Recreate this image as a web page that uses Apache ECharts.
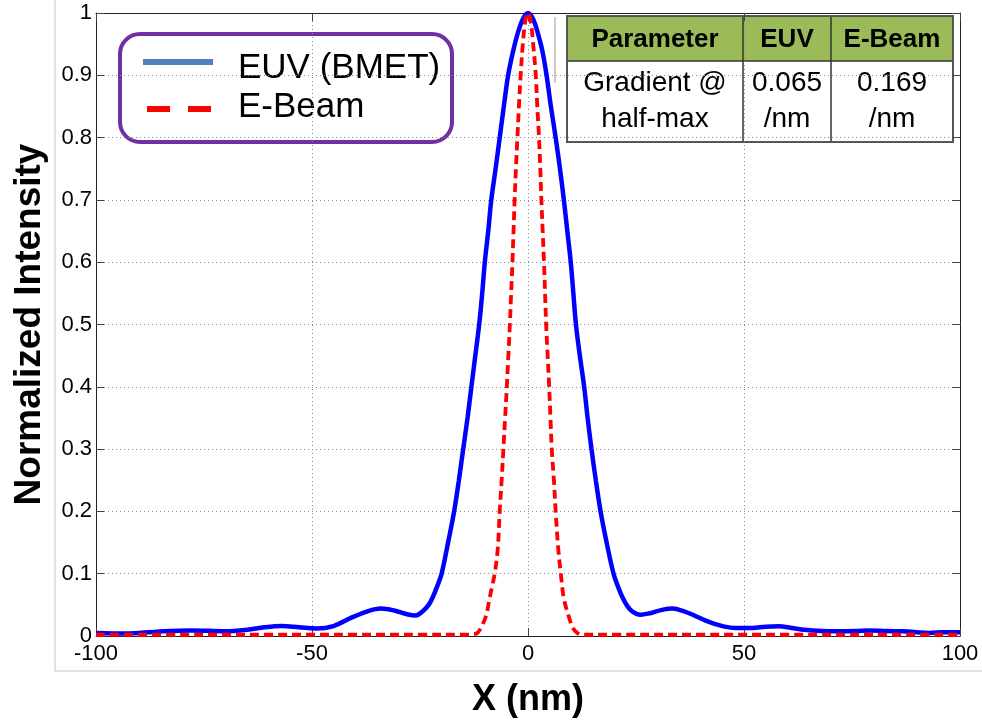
<!DOCTYPE html>
<html>
<head>
<meta charset="utf-8">
<title>Normalized Intensity: EUV vs E-Beam</title>
<script src="https://cdn.jsdelivr.net/npm/echarts@6/dist/echarts.min.js"></script>
<style>
  html, body { margin: 0; padding: 0; background: #ffffff; }
  #chart { width: 982px; height: 723px; }
</style>
</head>
<body>
<div id="chart"></div>
<script>
// EUV (BMET) aerial image profile: x position (nm) and normalized intensity
const euvX = [-100, -93, -86, -78, -70, -65, -61, -57, -53, -49, -45, -41, -37, -34, -31, -28, -26, -24.5, -23, -22, -21, -20,
  -18.5, -17.1, -16, -15, -14, -13.1, -12.2, -11.3, -10.6, -10, -9.2, -8.5, -7.5, -6.55, -5.6, -4.6, -3.4, -2.4, -1.2, 0,
  1.2, 2.3, 3.3, 4.3, 5.3, 6.4, 7.4, 8.3, 9.1, 9.9, 10.5, 11.1, 12, 13, 13.8, 14.7, 15.7, 16.8, 18.2, 19.8,
  20.8, 21.8, 23, 24.2, 26, 28.5, 31, 33.5, 36, 38.5, 41, 43, 45.5, 48, 52, 55, 58, 61, 64, 68, 72, 76, 79, 83, 87, 90, 93, 96, 100];
const euvY = [0.005, 0.004, 0.007, 0.009, 0.0075, 0.010, 0.014, 0.016, 0.014, 0.012, 0.016, 0.029, 0.040, 0.044, 0.041, 0.035, 0.033, 0.039, 0.050, 0.063, 0.080, 0.100,
  0.150, 0.200, 0.250, 0.300, 0.350, 0.400, 0.450, 0.500, 0.550, 0.600, 0.650, 0.700, 0.750, 0.800, 0.850, 0.900, 0.940, 0.967, 0.990, 1.000,
  0.990, 0.967, 0.940, 0.900, 0.850, 0.800, 0.750, 0.700, 0.650, 0.600, 0.550, 0.500, 0.450, 0.400, 0.350, 0.300, 0.250, 0.200, 0.150, 0.100,
  0.080, 0.063, 0.048, 0.039, 0.034, 0.037, 0.042, 0.044, 0.040, 0.033, 0.025, 0.020, 0.015, 0.013, 0.013, 0.015, 0.0155, 0.013, 0.010, 0.008, 0.0075, 0.008, 0.009, 0.008, 0.0075, 0.006, 0.005, 0.006, 0.006];

// E-Beam exposure profile
const ebeamX = [-100, -80, -60, -40, -25, -15, -12.5, -11.7, -10.6, -9.6, -9, -8.3, -7.7, -7, -6.55, -6.1, -5.7, -5.3, -4.9, -4.55, -4.2, -3.9, -3.6, -3.35, -3.1, -2.8, -2.45, -2.1, -1.7, -1.2, -0.6, 0,
  0.6, 1.2, 1.8, 2.15, 2.55, 2.85, 3.1, 3.4, 3.7, 3.95, 4.2, 4.55, 4.9, 5.2, 5.5, 6, 6.4, 7, 7.6, 8.3, 9.5, 10.3, 11.4, 12.5, 20, 40, 60, 80, 100];
const ebeamY = [0.002, 0.002, 0.002, 0.002, 0.002, 0.002, 0.003, 0.005, 0.017, 0.035, 0.057, 0.080, 0.100, 0.140, 0.200, 0.250, 0.300, 0.350, 0.400, 0.450, 0.500, 0.550, 0.600, 0.650, 0.700, 0.750, 0.800, 0.850, 0.900, 0.950, 0.988, 1.000,
  0.988, 0.950, 0.900, 0.850, 0.800, 0.750, 0.700, 0.650, 0.600, 0.550, 0.500, 0.450, 0.400, 0.350, 0.300, 0.250, 0.200, 0.140, 0.100, 0.060, 0.030, 0.014, 0.005, 0.002, 0.002, 0.002, 0.002, 0.002, 0.002];

const seriesNames = ['EUV (BMET)', 'E-Beam'];
const tableHeader = ['Parameter', 'EUV', 'E-Beam'];
const tableRow = ['Gradient @\nhalf-max', '0.065\n/nm', '0.169\n/nm'];

const FONT = '"Liberation Sans", Arial, sans-serif';

const chart = echarts.init(document.getElementById('chart'), null, { renderer: 'canvas' });

const pairs = (xs, ys) => xs.map((x, i) => [x, ys[i]]);

// table geometry
const colX = [567, 743, 831, 953];
const rowY = [16, 61, 142];
const tableEls = [];
tableEls.push({ type: 'rect', shape: { x: colX[0], y: rowY[0], width: colX[3] - colX[0], height: rowY[1] - rowY[0] }, style: { fill: '#9bbb59' } });
tableEls.push({ type: 'rect', shape: { x: colX[0], y: rowY[1], width: colX[3] - colX[0], height: rowY[2] - rowY[1] }, style: { fill: '#ffffff' } });
for (let c = 0; c < 3; c++) {
  const cx = (colX[c] + colX[c + 1]) / 2;
  tableEls.push({ type: 'text', x: cx, y: (rowY[0] + rowY[1]) / 2 + 1,
    style: { text: tableHeader[c], font: 'bold 26px ' + FONT, fill: '#000', align: 'center', verticalAlign: 'middle' } });
  tableEls.push({ type: 'text', x: cx, y: (rowY[1] + rowY[2]) / 2,
    style: { text: tableRow[c], font: '28px ' + FONT, lineHeight: 36, fill: '#000', align: 'center', verticalAlign: 'middle' } });
}
tableEls.push({ type: 'line', shape: { x1: colX[0], y1: rowY[1], x2: colX[3], y2: rowY[1] }, style: { stroke: '#333', lineWidth: 1.5 } });
tableEls.push({ type: 'line', shape: { x1: colX[1], y1: rowY[0], x2: colX[1], y2: rowY[2] }, style: { stroke: '#333', lineWidth: 1.5 } });
tableEls.push({ type: 'line', shape: { x1: colX[2], y1: rowY[0], x2: colX[2], y2: rowY[2] }, style: { stroke: '#333', lineWidth: 1.5 } });
tableEls.push({ type: 'rect', shape: { x: colX[0], y: rowY[0], width: colX[3] - colX[0], height: rowY[2] - rowY[0] }, style: { fill: 'none', stroke: '#555', lineWidth: 2 } });

const option = {
  backgroundColor: '#ffffff',
  animation: false,
  textStyle: { fontFamily: FONT },
  grid: { left: 96, right: 22, top: 13, bottom: 87 },
  xAxis: [
    {
      type: 'value', min: -100, max: 100, interval: 50, position: 'bottom',
      name: 'X (nm)', nameLocation: 'middle', nameGap: 46,
      nameTextStyle: { fontFamily: FONT, fontWeight: 'bold', fontSize: 36, color: '#000' },
      axisLine: { show: true, onZero: false, lineStyle: { color: '#222', width: 1 } },
      axisTick: { show: true, inside: true, length: 8, lineStyle: { color: '#444' } },
      axisLabel: { fontFamily: FONT, fontSize: 22, color: '#000', margin: 7 },
      splitLine: { show: true, lineStyle: { color: '#8a8a8a', type: [1, 3], width: 1 } }
    },
    {
      type: 'value', min: -100, max: 100, interval: 50, position: 'top',
      axisLine: { show: true, onZero: false, lineStyle: { color: '#222', width: 1 } },
      axisTick: { show: true, inside: true, length: 8, lineStyle: { color: '#444' } },
      axisLabel: { show: false }, splitLine: { show: false }
    }
  ],
  yAxis: [
    {
      type: 'value', min: 0, max: 1, interval: 0.1, position: 'left',
      name: 'Normalized Intensity', nameLocation: 'middle', nameGap: 48,
      nameTextStyle: { fontFamily: FONT, fontWeight: 'bold', fontSize: 37, color: '#000' },
      axisLine: { show: true, onZero: false, lineStyle: { color: '#222', width: 1 } },
      axisTick: { show: true, inside: true, length: 8, lineStyle: { color: '#444' } },
      axisLabel: { fontFamily: FONT, fontSize: 22, color: '#000', margin: 4 },
      splitLine: { show: true, lineStyle: { color: '#8a8a8a', type: [1, 3], width: 1 } }
    },
    {
      type: 'value', min: 0, max: 1, interval: 0.1, position: 'right',
      axisLine: { show: true, onZero: false, lineStyle: { color: '#222', width: 1 } },
      axisTick: { show: true, inside: true, length: 8, lineStyle: { color: '#444' } },
      axisLabel: { show: false }, splitLine: { show: false }
    }
  ],
  series: [
    {
      name: seriesNames[0], type: 'line', xAxisIndex: 0, yAxisIndex: 0,
      data: pairs(euvX, euvY), showSymbol: false, symbol: 'none',
      smooth: 0.35, z: 3,
      lineStyle: { color: '#0000ff', width: 4.5 }
    },
    {
      name: seriesNames[1], type: 'line', xAxisIndex: 0, yAxisIndex: 0,
      data: pairs(ebeamX, ebeamY), showSymbol: false, symbol: 'none',
      smooth: 0.35, z: 4,
      lineStyle: { color: '#ff0000', width: 3.8, type: [9, 5] }
    }
  ],
  graphic: [
    // outer figure edges
    { type: 'line', z: 100, shape: { x1: 55, y1: 0, x2: 55, y2: 671 }, style: { stroke: '#d9d9d9', lineWidth: 1.5 } },
    { type: 'line', z: 100, shape: { x1: 55, y1: 671, x2: 982, y2: 671 }, style: { stroke: '#d9d9d9', lineWidth: 1.5 } },
    { type: 'line', z: 100, shape: { x1: 555, y1: 17, x2: 555, y2: 83 }, style: { stroke: '#999', lineWidth: 1 } },
    // legend box
    {
      type: 'group', z: 100,
      children: [
        { type: 'rect', shape: { x: 120, y: 34, width: 332, height: 108, r: 20 }, style: { fill: '#ffffff', stroke: '#7030a0', lineWidth: 4 } },
        { type: 'line', shape: { x1: 143, y1: 62, x2: 213, y2: 62 }, style: { stroke: '#4f81bd', lineWidth: 6 } },
        { type: 'line', shape: { x1: 147, y1: 109, x2: 213, y2: 109 }, style: { stroke: '#ff0000', lineWidth: 6, lineDash: [23, 18] } },
        { type: 'text', x: 238, y: 68, style: { text: seriesNames[0], font: '35px ' + FONT, fill: '#000', align: 'left', verticalAlign: 'middle' } },
        { type: 'text', x: 238, y: 107, style: { text: seriesNames[1], font: '35px ' + FONT, fill: '#000', align: 'left', verticalAlign: 'middle' } }
      ]
    },
    // parameter table
    { type: 'group', z: 100, children: tableEls }
  ]
};

chart.setOption(option);
</script>
</body>
</html>
